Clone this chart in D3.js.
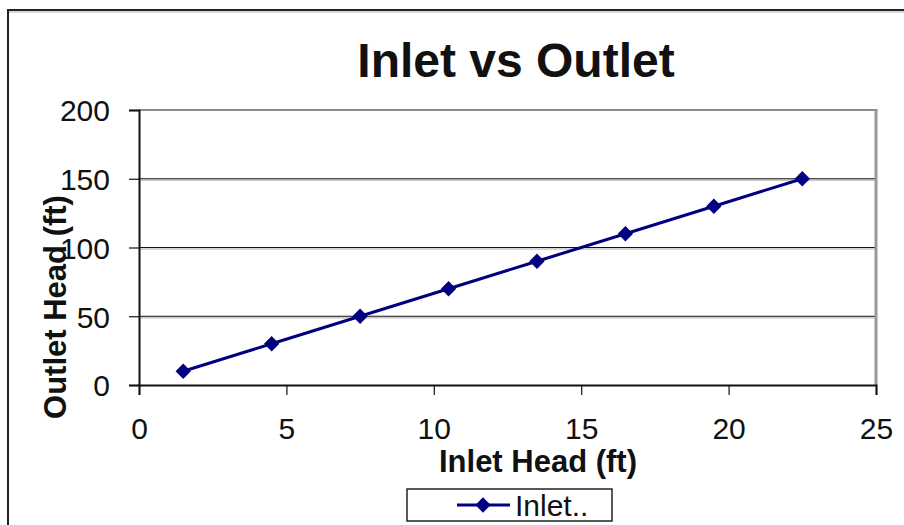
<!DOCTYPE html>
<html>
<head>
<meta charset="utf-8">
<script src="https://cdn.jsdelivr.net/npm/d3@7"></script>
<style>
  body { margin: 0; background: #fff; }
  text { font-family: Arial, "Liberation Sans", sans-serif; }
</style>
</head>
<body>
<div class="chart"></div>
<script>
// data
const inletHead = [1.5, 4.5, 7.5, 10.5, 13.5, 16.5, 19.5, 22.5]
const outletHead = [10, 30, 50, 70, 90, 110, 130, 150]
const xTicks = [0, 5, 10, 15, 20, 25]
const yTicks = [0, 50, 100, 150, 200]
const seriesName = 'Inlet..'

const width = 904, height = 525
const svg = d3.select('.chart').append('svg')
  .attr('width', width)
  .attr('height', height)

// outer chart frame (only left / top visible)
svg.append('line').attr('x1', 8).attr('x2', 8).attr('y1', 10).attr('y2', height)
  .attr('stroke', '#222').attr('stroke-width', 2)
svg.append('line').attr('x1', 7).attr('x2', width).attr('y1', 10).attr('y2', 10)
  .attr('stroke', '#222').attr('stroke-width', 2)
svg.append('line').attr('x1', 9).attr('x2', width).attr('y1', 12).attr('y2', 12)
  .attr('stroke', '#ccc').attr('stroke-width', 1.5)

const plot = { left: 139, right: 876, top: 110, bottom: 385 }

const x = d3.scaleLinear().domain([0, 25]).range([plot.left, plot.right])
const y = d3.scaleLinear().domain([0, 200]).range([plot.bottom, plot.top])

// gridlines
svg.append('g').selectAll('line')
  .data(yTicks.filter(d => d > 0 && d < 200))
  .enter().append('line')
  .attr('x1', plot.left).attr('x2', plot.right)
  .attr('y1', d => y(d) + 1.5).attr('y2', d => y(d) + 1.5)
  .attr('stroke', '#c8c8c8').attr('stroke-width', 1.5)
svg.append('g').selectAll('line')
  .data(yTicks.filter(d => d > 0 && d < 200))
  .enter().append('line')
  .attr('x1', plot.left).attr('x2', plot.right)
  .attr('y1', d => y(d)).attr('y2', d => y(d))
  .attr('stroke', '#111').attr('stroke-width', 1.2)

// plot area border, gray on top and right
svg.append('line').attr('x1', plot.left).attr('x2', plot.right + 1.5)
  .attr('y1', plot.top).attr('y2', plot.top)
  .attr('stroke', '#8c8c8c').attr('stroke-width', 2)
svg.append('line').attr('x1', plot.right).attr('x2', plot.right)
  .attr('y1', plot.top).attr('y2', plot.bottom)
  .attr('stroke', '#999').attr('stroke-width', 3)

// axes
const xAxis = d3.axisBottom(x).tickValues(xTicks).tickSize(10).tickPadding(27)
const yAxis = d3.axisLeft(y).tickValues(yTicks).tickSize(10).tickPadding(19)

const xg = svg.append('g').attr('transform', `translate(0, ${plot.bottom})`).call(xAxis)
const yg = svg.append('g').attr('transform', `translate(${plot.left}, 0)`).call(yAxis)

;[xg, yg].forEach(g => {
  g.select('.domain').attr('stroke', '#111').attr('stroke-width', 2)
  g.selectAll('.tick line').attr('stroke', '#111').attr('stroke-width', 1.2)
  g.selectAll('.tick text')
    .attr('font-family', 'Arial, "Liberation Sans", sans-serif')
    .attr('font-size', 30).attr('fill', '#111')
})
xg.selectAll('.tick text').attr('dy', '0.55em')
yg.selectAll('.tick text').attr('dy', '0.36em')

// series line and markers
const line = d3.line()
  .x((d, i) => x(inletHead[i]))
  .y(d => y(d))

svg.append('path')
  .datum(outletHead)
  .attr('d', line)
  .attr('fill', 'none')
  .attr('stroke', '#000080')
  .attr('stroke-width', 3)

const diamond = d3.symbol().type(d3.symbolDiamond2).size(150)

svg.append('g').selectAll('path')
  .data(outletHead)
  .enter().append('path')
  .attr('d', diamond)
  .attr('transform', (d, i) => `translate(${x(inletHead[i])}, ${y(d)})`)
  .attr('fill', '#000080')

// title and axis titles
svg.append('text')
  .attr('x', 516).attr('y', 77)
  .attr('text-anchor', 'middle')
  .attr('font-size', 48).attr('font-weight', 'bold')
  .attr('fill', '#111')
  .text('Inlet vs Outlet')

svg.append('text')
  .attr('x', 538).attr('y', 472)
  .attr('text-anchor', 'middle')
  .attr('font-size', 31).attr('font-weight', 'bold')
  .attr('fill', '#111')
  .text('Inlet Head (ft)')

svg.append('text')
  .attr('transform', 'translate(66, 307) rotate(-90)')
  .attr('text-anchor', 'middle')
  .attr('font-size', 31).attr('font-weight', 'bold')
  .attr('fill', '#111')
  .text('Outlet Head (ft)')

// legend
const legend = svg.append('g').attr('transform', 'translate(407, 489)')
legend.append('rect')
  .attr('width', 205).attr('height', 32)
  .attr('fill', '#fff').attr('stroke', '#222').attr('stroke-width', 1.5)
legend.append('line')
  .attr('x1', 50).attr('x2', 103).attr('y1', 16).attr('y2', 16)
  .attr('stroke', '#000080').attr('stroke-width', 3)
legend.append('path')
  .attr('d', diamond)
  .attr('transform', 'translate(76, 16)')
  .attr('fill', '#000080')
legend.append('text')
  .attr('x', 108).attr('y', 27)
  .attr('font-size', 30).attr('fill', '#111')
  .text(seriesName)
</script>
</body>
</html>
